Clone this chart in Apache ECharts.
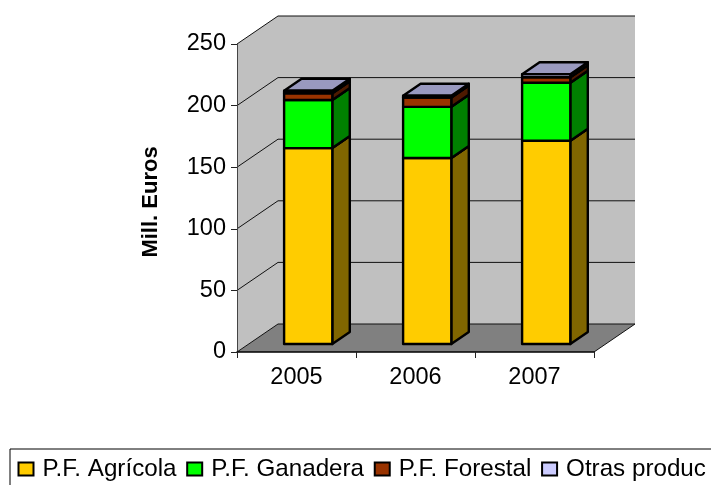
<!DOCTYPE html>
<html><head><meta charset="utf-8">
<style>html,body{margin:0;padding:0;background:#fff;overflow:hidden}#c{width:711px;height:485px}</style>
<script src="https://cdn.jsdelivr.net/npm/echarts@6/dist/echarts.min.js"></script>
</head><body><div id="c"></div>
<script>
const categories = ['2005','2006','2007'];
const agricola = [159, 151, 165];
const ganadera = [39, 41.5, 47];
const forestal = [5.5, 7.5, 4.5];
const otras = [2, 1.5, 2.5];
const yTicks = [0, 50, 100, 150, 200, 250];
const seriesNames = ['P.F. Agrícola','P.F. Ganadera','P.F. Forestal','Otras produc'];
const seriesValues = [agricola, ganadera, forestal, otras];
const frontColors = ['#ffcc00','#00ff00','#993300','#ccccff'];
const sideColors = ['#806600','#008000','#4d1a00','#666680'];
const topColors = ['#bf9900','#00bf00','#732600','#9999bf'];

const WALL_DX = 41, WALL_DY = -28;     // chart depth
const BAR_OFF_X = 11.7, BAR_OFF_Y = -8;  // bar position inside the depth
const BAR_DX = 17.5, BAR_DY = -12;       // bar depth
const BAR_FRACTION = 0.405;

function wallsRender(params, api) {
  const children = [];
  const p0 = api.coord([0, 0]);
  const left = params.coordSys.x, right = left + params.coordSys.width;
  const yTop = api.coord([0, 250])[1], yBot = p0[1];
  const poly = (pts, fill) => ({type:'polygon', shape:{points:pts}, style:{fill:fill, stroke:'none'}});
  children.push(poly([[left+WALL_DX,yTop+WALL_DY],[right+WALL_DX,yTop+WALL_DY],[right+WALL_DX,yBot+WALL_DY],[left+WALL_DX,yBot+WALL_DY]],'#c0c0c0'));
  children.push(poly([[left,yTop],[left+WALL_DX,yTop+WALL_DY],[left+WALL_DX,yBot+WALL_DY],[left,yBot]],'#c0c0c0'));
  children.push(poly([[left,yBot],[left+WALL_DX,yBot+WALL_DY],[right+WALL_DX,yBot+WALL_DY],[right,yBot]],'#808080'));
  yTicks.forEach(v => {
    const y = api.coord([0, v])[1];
    children.push({type:'polyline', shape:{points:[[left,y],[left+WALL_DX,y+WALL_DY],[right+WALL_DX,y+WALL_DY]]}, style:{fill:'none', stroke:'#111', lineWidth:1}});
  });
  children.push({type:'line', shape:{x1:right,y1:yBot,x2:right+WALL_DX,y2:yBot+WALL_DY}, style:{stroke:'#111', lineWidth:1}});
  return {type:'group', children};
}

function barRender(si) {
  return function (params, api) {
    const idx = api.value(0);
    const base = api.coord([idx, api.value(1)]);
    const top = api.coord([idx, api.value(2)]);
    const w = api.size([1, 0])[0] * BAR_FRACTION;
    const x0 = base[0] - w / 2 + BAR_OFF_X, x1 = x0 + w;
    const yb = base[1] + BAR_OFF_Y, yt = top[1] + BAR_OFF_Y;
    const st = f => ({fill:f, stroke:'#000', lineWidth:2.4, lineJoin:'round'});
    return {type:'group', children:[
      {type:'polygon', shape:{points:[[x1,yb],[x1+BAR_DX,yb+BAR_DY],[x1+BAR_DX,yt+BAR_DY],[x1,yt]]}, style:st(sideColors[si])},
      {type:'polygon', shape:{points:[[x0,yt],[x0+BAR_DX,yt+BAR_DY],[x1+BAR_DX,yt+BAR_DY],[x1,yt]]}, style:st(topColors[si])},
      {type:'rect', shape:{x:x0,y:yt,width:x1-x0,height:yb-yt}, style:st(frontColors[si])}
    ]};
  };
}

const running = categories.map(() => 0);
const barSeries = seriesNames.map((name, si) => {
  const data = categories.map((c, i) => {
    const b = running[i];
    running[i] = b + seriesValues[si][i];
    return [i, b, running[i]];
  });
  return {
    name, type:'custom', coordinateSystem:'cartesian2d', renderItem: barRender(si),
    data, encode:{x:0, y:[1,2]}, z:3 + si, animation:false, silent:true,
    itemStyle:{color:frontColors[si], borderColor:'#000', borderWidth:2}
  };
});

const chart = echarts.init(document.getElementById('c'), null, {renderer:'canvas'});
const font = '"Liberation Sans", Arial, sans-serif';
chart.setOption({
  animation:false,
  backgroundColor:'#fff',
  grid:{left:237, top:44, width:357, height:308, containLabel:false},
  xAxis:{type:'category', data:categories, boundaryGap:true,
    axisLine:{show:true, lineStyle:{color:'#000', width:1.5}},
    axisTick:{show:true, alignWithLabel:false, length:6, lineStyle:{color:'#222'}},
    axisLabel:{color:'#000', fontFamily:font, fontSize:23.5, margin:14}, z:10},
  yAxis:{type:'value', min:0, max:250, interval:50, name:'Mill. Euros', nameLocation:'middle', nameRotate:90, nameGap:75,
    nameTextStyle:{color:'#000', fontFamily:font, fontSize:22, fontWeight:'bold', padding:[0,8,0,0]},
    axisLine:{show:true, lineStyle:{color:'#444', width:1}},
    axisTick:{show:true, length:6, lineStyle:{color:'#222'}},
    splitLine:{show:false},
    axisLabel:{color:'#000', fontFamily:font, fontSize:23.5, margin:11, padding:[4,0,0,0]}, z:10},
  legend:{data:seriesNames, left:17.5, top:457, orient:'horizontal', width:800, icon:'rect',
    itemWidth:15, itemHeight:13, itemGap:9.7, padding:0,
    textStyle:{color:'#000', fontFamily:font, fontSize:24.2, padding:[0,0,0,4]}, selectedMode:false},
  graphic:[{type:'rect', left:9.5, top:448.5, shape:{width:720, height:50}, style:{fill:'#fff', stroke:'#000', lineWidth:1}, z:-1, silent:true}],
  series:[{type:'custom', name:'walls', coordinateSystem:'cartesian2d', renderItem:wallsRender, data:[[0,0]], z:1, silent:true}].concat(barSeries)
});
</script></body></html>
